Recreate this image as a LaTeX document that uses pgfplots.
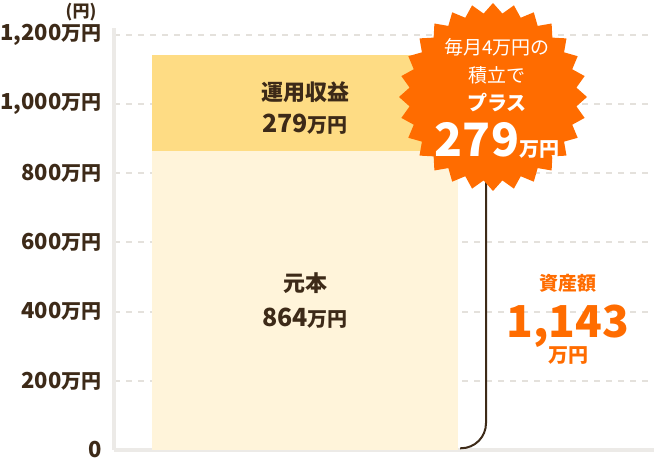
\documentclass[border=0pt]{standalone}
\usepackage{fontspec}
\setmainfont{Noto Sans CJK JP}
\usepackage{pgfplots}
\pgfplotsset{compat=1.18}
\usetikzlibrary{shapes.geometric}
\definecolor{ink}{HTML}{3D2A18}
\definecolor{accent}{HTML}{FF6C00}
\definecolor{gain}{HTML}{FEDC84}
\definecolor{base}{HTML}{FFF4DA}
\definecolor{axisgray}{HTML}{ECEAE7}
\definecolor{gridgray}{HTML}{E4E1DC}
\newcommand\fs[1]{\fontsize{#1}{#1}\selectfont}
\newcommand\man[1][20]{{\fs{#1}万円}}

\begin{document}
\begin{tikzpicture}
\useasboundingbox (0pt,0pt) rectangle (654pt,462pt);
\begin{axis}[
    at={(114pt,12pt)}, anchor=south west,
    scale only axis, width=540pt, height=422pt,
    xmin=0, xmax=540, ymin=0, ymax=1220,
    axis lines*=left,
    axis line style={draw=axisgray, line width=4pt},
    xtick=\empty,
    ytick={0,200,...,1200},
    yticklabels={0,200\man,400\man,600\man,800\man,{1,000\man},{1,200\man}},
    major tick length=0pt,
    yticklabel style={font=\bfseries\fs{22}, text=ink, xshift=-9pt},
    ymajorgrids,
    major grid style={gridgray, line width=2pt, dash pattern=on 6pt off 6pt},
    ybar stacked, bar width=306pt,
    clip=false,
]
% principal, gain
\addplot[fill=base, draw=none] coordinates {(191,864)};
\addplot[fill=gain, draw=none] coordinates {(191,279)};

\draw[ink, line width=2pt, rounded corners=25pt] (axis cs:372,1143) |- (axis cs:346,5);
\end{axis}

% labels inside the bar
\node[text=ink, font=\bfseries\fs{22}] at (305pt,370pt) {運用収益};
\node[text=ink, font=\bfseries\fs{25}, anchor=base] at (305pt,329pt) {279\man[20]};
\node[text=ink, font=\bfseries\fs{22}] at (305pt,179pt) {元本};
\node[text=ink, font=\bfseries\fs{25}, anchor=base] at (305pt,135pt) {864\man[20]};

\node[star, star points=28, star point ratio=1.12, fill=accent, minimum size=188pt, inner sep=0pt] at (493pt,365pt) {};
\node[white, font=\fs{19}] at (497pt,415pt) {毎月4万円の};
\node[white, font=\fs{19}] at (497pt,387pt) {積立で};
\node[white, font=\bfseries\fs{20}] at (497pt,359pt) {プラス};
\node[white, font=\bfseries\fs{46}, anchor=base] at (497pt,305pt) {279{\fs{20}万円}};

\node[text=accent, font=\bfseries\fs{19}] at (568pt,179pt) {資産額};
\node[text=accent, font=\bfseries\fs{44}, anchor=base] at (568pt,124pt) {1,143};
\node[text=accent, font=\bfseries\fs{20}] at (568pt,106pt) {万円};

\node[text=ink, font=\bfseries\fs{17}] at (81pt,450pt) {(円)};
\end{tikzpicture}
\end{document}
